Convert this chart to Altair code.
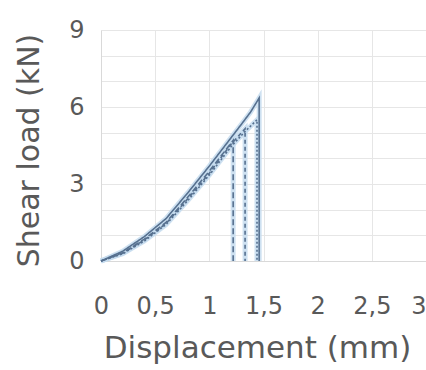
import altair as alt
import pandas as pd

# Series data (displacement mm, shear load kN)
s1_x = [0, 0.2, 0.4, 0.6, 0.8, 1.0, 1.2, 1.3, 1.38, 1.46, 1.46]
s1_y = [0, 0.38, 0.95, 1.65, 2.65, 3.7, 4.8, 5.35, 5.8, 6.35, 0]
s2_x = [0, 0.2, 0.4, 0.6, 0.8, 1.0, 1.2, 1.33, 1.44, 1.44]
s2_y = [0, 0.28, 0.78, 1.42, 2.35, 3.35, 4.45, 5.05, 5.5, 0]
s3_x = [0, 0.2, 0.4, 0.6, 0.8, 1.0, 1.22, 1.22]
s3_y = [0, 0.32, 0.85, 1.5, 2.48, 3.5, 4.7, 0]
s4_x = [0, 0.2, 0.4, 0.6, 0.8, 1.0, 1.2, 1.33, 1.33]
s4_y = [0, 0.3, 0.82, 1.46, 2.42, 3.42, 4.55, 5.15, 0]

x_ticks = [0, 0.5, 1, 1.5, 2, 2.5, 3]
y_grid = [0, 1, 2, 3, 4, 5, 6, 7, 8, 9]

names = ["A", "B", "C", "D"]
dashes = {"A": [1, 0], "B": [2, 2], "C": [6, 3], "D": [4, 3]}

rows = []
for n, xs, ys in zip(names, [s1_x, s2_x, s3_x, s4_x], [s1_y, s2_y, s3_y, s4_y]):
    for i, (x, y) in enumerate(zip(xs, ys)):
        rows.append({"series": n, "order": i, "x": x, "y": y})
df = pd.DataFrame(rows)

font = "DejaVu Sans"
xs_scale = alt.Scale(domain=[0, 3], nice=False)
ys_scale = alt.Scale(domain=[0, 9], nice=False)

xaxis = alt.Axis(values=x_ticks,
                 labelExpr="replace(format(datum.value, '~g'), '.', ',')",
                 labelAlign=alt.ExprRef(expr="datum.value == 3 ? 'right' : 'center'"),
                 title="Displacement (mm)", ticks=False, domainColor="#d9d9d9",
                 gridColor="#e6e6e6", labelFont=font, labelFontSize=24, labelColor="#595959",
                 labelPadding=33, labelOverlap=False, titleFont=font, titleFontSize=31,
                 titleFontWeight="normal", titleColor="#595959", titlePadding=15,
                 titleX=156, labelFlush=False)
yaxis = alt.Axis(values=y_grid,
                 labelExpr="datum.value % 3 == 0 ? datum.value : ''",
                 title="Shear load (kN)", ticks=False, domainColor="#d9d9d9",
                 gridColor="#e6e6e6", labelFont=font, labelFontSize=24, labelColor="#595959",
                 labelPadding=17, labelOverlap=False, titleFont=font, titleFontSize=30,
                 titleFontWeight="normal", titleColor="#595959", titlePadding=24,
                 titleY=120, labelFlush=False)

base = alt.Chart(df).encode(
    x=alt.X("x:Q", scale=xs_scale, axis=xaxis),
    y=alt.Y("y:Q", scale=ys_scale, axis=yaxis),
    detail="series:N",
    order="order:Q",
)
halo = base.mark_line(strokeWidth=5, color="#c5dcef", opacity=0.85)
lines = base.mark_line(strokeWidth=1.6, color="#56708f").encode(
    strokeDash=alt.StrokeDash("series:N", scale=alt.Scale(domain=names, range=[dashes[n] for n in names]), legend=None),
)

chart = (halo + lines).properties(
    width=325, height=231,
    autosize=alt.AutoSizeParams(type="none"),
    padding={"left": 101, "top": 30, "right": 0, "bottom": 109},
).configure_view(stroke=None)

chart.save("out.html", embed_options={"renderer": "svg", "actions": False})
